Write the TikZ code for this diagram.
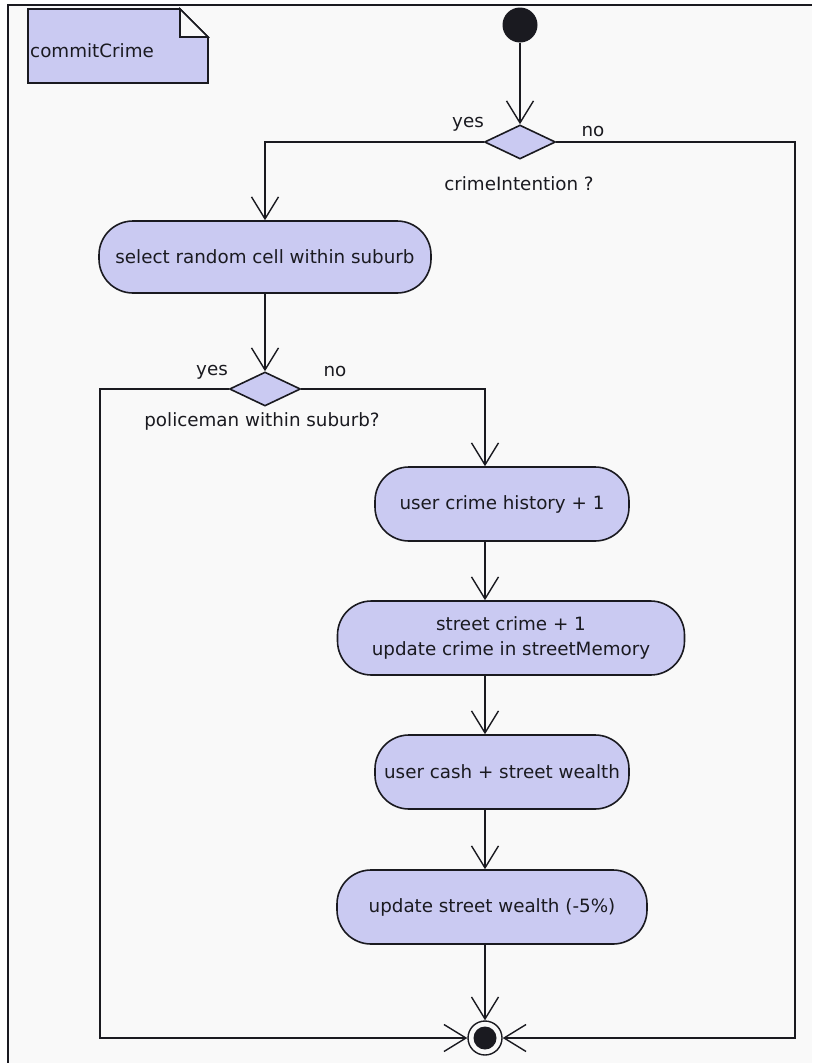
\documentclass[tikz,border=0pt]{standalone}
\usepackage{fontspec}
\setmainfont{DejaVu Sans}
\usetikzlibrary{arrows.meta,shapes.geometric}
\definecolor{actfill}{RGB}{202,202,242}
\definecolor{paper}{RGB}{249,249,249}
\definecolor{ink}{RGB}{26,26,32}
\begin{document}
\begin{tikzpicture}[x=1pt,y=-1pt,
  every node/.style={font=\fontsize{18.3}{25}\selectfont, text=ink},
  flow/.style={line width=1.6pt, draw=ink},
  arr/.style={flow, -{Straight Barb[length=22pt,width=27pt,line width=1.4pt]}},
  action/.style={draw=ink, line width=1.6pt, fill=actfill, rounded corners=34pt,
    align=center, inner sep=0pt, minimum height=74pt},
  choice/.style={diamond, draw=ink, line width=1.6pt, fill=actfill, inner sep=0pt,
    minimum width=71pt, minimum height=34pt},
  lbl/.style={inner sep=0pt}
]
% page and frame
\useasboundingbox (0,0) rectangle (812,1063);
\fill[white] (0,0) rectangle (812,1063);
\fill[paper] (8,5) rectangle (812,1063);
\draw[line width=2pt, draw=ink] (8,1063) -- (8,5) -- (812,5);

% activity name in a note
\filldraw[fill=actfill, draw=ink, line width=1.6pt]
  (28,9) -- (180,9) -- (208,37) -- (208,83) -- (28,83) -- cycle;
\filldraw[fill=paper, draw=ink, line width=1.6pt] (180,9) -- (180,37) -- (208,37) -- cycle;
\node[lbl, anchor=west] (notelabel) at (30,51) {commitCrime};

% nodes
\node[circle, fill=ink, minimum size=35pt, inner sep=0pt] (start) at (520,25) {};
\node[choice] (d1) at (520,142) {};
\node[lbl] (d1txt) at (519,184) {crimeIntention ?};
\node[lbl] (d1yes) at (468,124) {yes};
\node[lbl] (d1no) at (593,132) {no};

\node[action, minimum width=332pt, minimum height=72pt] (a1) at (265,257) {select random cell within suburb};

\node[choice] (d2) at (265,389) {};
\node[lbl] (d2txt) at (262,421) {policeman within suburb?};
\node[lbl] (d2yes) at (212,372) {yes};
\node[lbl] (d2no) at (335,372) {no};

\node[action, minimum width=254pt] (a2) at (502,504) {user crime history + 1};
\node[action, minimum width=347pt] (a3) at (511,638) {street crime + 1\\update crime in streetMemory};
\node[action, minimum width=254pt] (a4) at (502,772) {user cash + street wealth};
\node[action, minimum width=310pt] (a5) at (492,907) {update street wealth (-5\%)};

\node[circle, draw=ink, line width=1.4pt, fill=paper, minimum size=34pt, inner sep=0pt] (final) at (485,1038) {};
\node[circle, fill=ink, minimum size=23pt, inner sep=0pt] (finaldot) at (final.center) {};

\coordinate (rightturn) at (795,142);
\coordinate (rightfoot) at (795,1038);
\coordinate (leftturn) at (100,389);
\coordinate (leftfoot) at (100,1038);
\coordinate (trunk) at (485,0);

% connectors
\draw[arr] (start) -- (d1.north);
\draw[arr] (d1.west) -| (a1.north);
\draw[arr] (d1.east) -- (rightturn) -- (rightfoot) -- (final.east);
\draw[arr] (a1.south) -- (d2.north);
\draw[arr] (d2.west) -- (leftturn) -- (leftfoot) -- (final.west);
\draw[arr] (d2.east) -| (trunk |- a2.north);
\draw[arr] (trunk |- a2.south) -- (trunk |- a3.north);
\draw[arr] (trunk |- a3.south) -- (trunk |- a4.north);
\draw[arr] (trunk |- a4.south) -- (trunk |- a5.north);
\draw[arr] (trunk |- a5.south) -- (final.north);
\end{tikzpicture}
\end{document}
